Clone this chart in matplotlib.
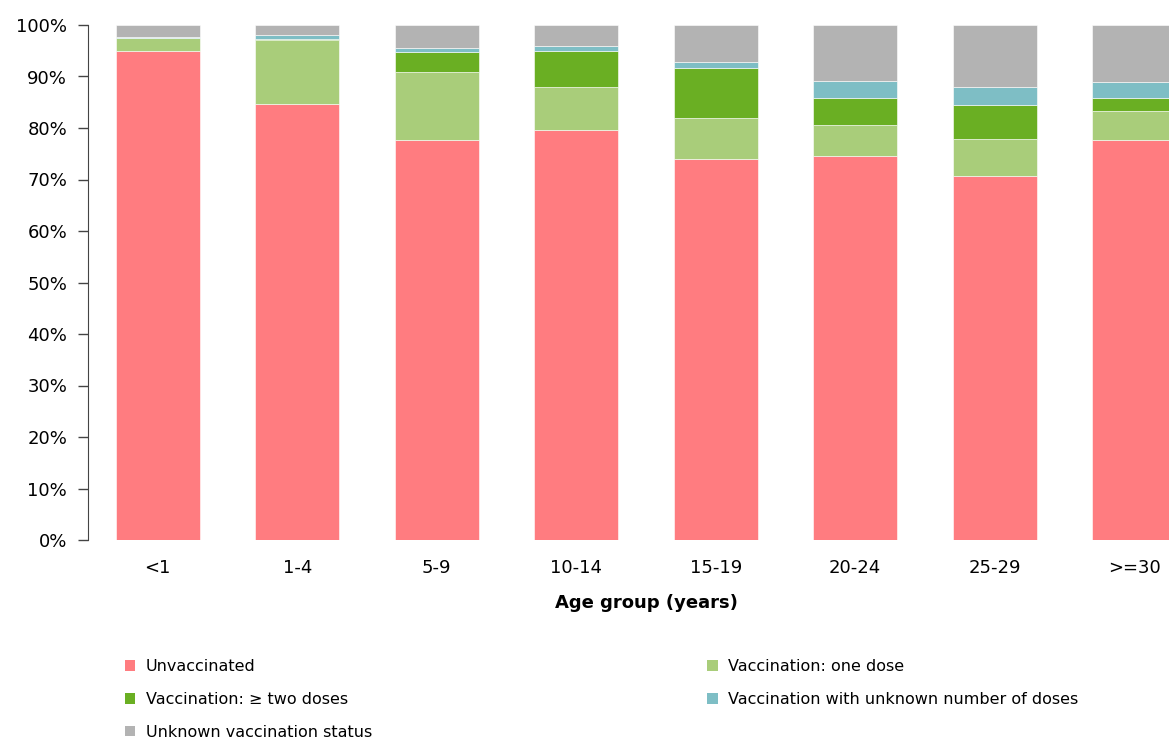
import numpy as np
import matplotlib.pyplot as plt
from matplotlib.patches import Patch

# --- DADES --- #
age_groups = ['<1', '1-4', '5-9', '10-14', '15-19', '20-24', '25-29', '>=30']

unvaccinated   = [94.9, 84.7, 77.7, 79.7, 74.0, 74.6, 70.6, 77.7]
one_dose       = [2.6, 12.3, 13.1, 8.2, 7.9, 6.0, 7.3, 5.55]
two_doses      = [0.0, 0.3, 3.9, 7.1, 9.8, 5.25, 6.6, 2.6]
unknown_doses  = [0.2, 0.75, 0.85, 0.9, 1.1, 3.3, 3.55, 3.1]
unknown_status = [2.3, 1.95, 4.45, 4.1, 7.2, 10.85, 11.95, 11.05]

series = [unvaccinated, one_dose, two_doses, unknown_doses, unknown_status]
labels = ['Unvaccinated', 'Vaccination: one dose', 'Vaccination: \u2265 two doses',
          'Vaccination with unknown number of doses', 'Unknown vaccination status']
colors = ['#FF7C80', '#A9CD7A', '#6AAF23', '#7EBEC5', '#B3B3B3']

# --- GRÀFICA --- #
fig = plt.figure(figsize=(11.69, 7.40), dpi=100)
ax = fig.add_axes([88/1169, 200/740, 1 - 88/1169, 515/740])

x = np.arange(len(age_groups))
bottom = np.zeros(len(age_groups))
for vals, col in zip(series, colors):
    ax.bar(x, vals, width=0.6, bottom=bottom, color=col,
           edgecolor='white', linewidth=0.4)
    bottom += np.array(vals)

ax.set_ylim(0, 100)
ax.set_xlim(-0.5, -0.5 + (1169 - 88) / 139.5)
ax.set_yticks(np.arange(0, 101, 10))
ax.set_yticklabels([f'{v}%' for v in range(0, 101, 10)], fontsize=13)
ax.set_xticks(x)
ax.set_xticklabels(age_groups, fontsize=13)
ax.tick_params(axis='x', length=0, pad=14)
ax.tick_params(axis='y', length=7, width=1, color='#444444', pad=8)

for s in ['top', 'right', 'bottom']:
    ax.spines[s].set_visible(False)
ax.spines['left'].set_color('#444444')

# etiqueta centrada sobre tot el rang de categories
ax.text(3.5, -0.122, 'Age group (years)', transform=ax.get_xaxis_transform(),
        ha='center', va='center', fontsize=13, fontweight='bold')

# llegenda en ordre per files
order = [0, 2, 4, 1, 3]
handles = [Patch(facecolor=colors[i], label=labels[i]) for i in order]
fig.legend(handles=handles, ncol=2, loc='upper left',
           bbox_to_anchor=(125/1169, 1 - 659/740), frameon=False,
           fontsize=11.5, handlelength=0.65, handleheight=0.65,
           handletextpad=0.65, columnspacing=21, labelspacing=1.12,
           borderpad=0, borderaxespad=0)

plt.savefig('out.png', dpi=100)
